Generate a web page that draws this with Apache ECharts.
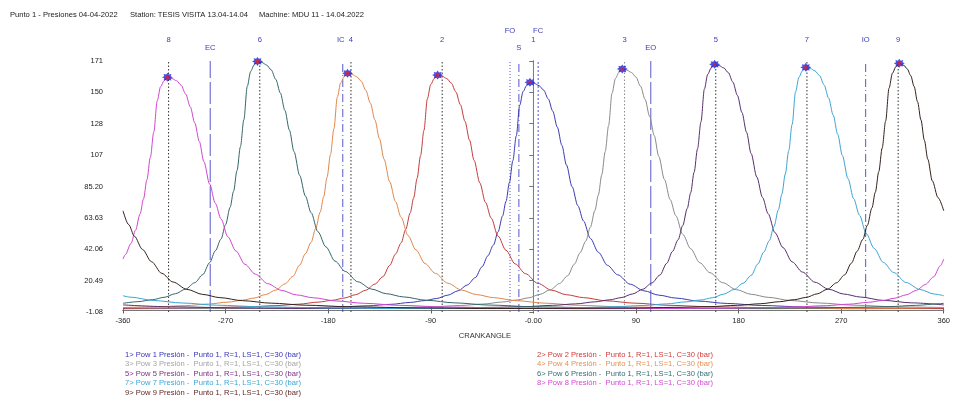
<!DOCTYPE html>
<html>
<head>
<meta charset="utf-8">
<title>Punto 1 - Presiones</title>
<script src="https://cdn.jsdelivr.net/npm/echarts@6/dist/echarts.min.js"></script>
<style>
  html, body { margin: 0; padding: 0; background: #ffffff; }
  #chart { width: 953px; height: 400px; }
</style>
</head>
<body>
<div id="chart"></div>
<script>
// ---- Cylinder pressure traces: [crank angle (deg), pressure (bar)] ----
const pow1 = [[-360,1.2],[-300,1.3],[-240,1.5],[-200,1.9],[-170,2.4],[-145,3.2],[-125,4.2],[-108,5.5],[-95,6.8],[-85,8.2],[-75,10.5],[-66,13.5],[-58,17.5],[-51,22.5],[-45,30],[-40,37.5],[-35,45],[-31,54],[-27,65],[-24,75],[-21,88],[-18,103],[-15,120],[-12,141],[-9,150.5],[-6,154.5],[-3,156.8],[1,156],[5,154.5],[9,151.5],[13,145.5],[17,137],[21,126],[25,113.5],[29,100],[34,85],[39,72],[44,61.5],[50,49.5],[57,40],[65,31],[74,24.5],[85,18],[97,13.5],[110,10.5],[125,8.5],[145,6.4],[170,4.8],[200,3.4],[240,2.3],[300,1.6],[360,1.2]];
const pow2 = [[-360,1.4],[-321,1.5],[-281,2.0],[-251,2.5],[-226,3.3],[-206,4.3],[-189,5.7],[-176,7.0],[-166,8.5],[-156,10.8],[-147,13.9],[-139,18.1],[-132,23.2],[-126,31.0],[-121,38.7],[-116,46.4],[-112,55.7],[-108,67.1],[-105,77.4],[-102,90.8],[-99,106.3],[-96,123.8],[-93,145.5],[-90,155.3],[-87,159.4],[-84,161.8],[-80,161.0],[-76,159.4],[-72,156.3],[-68,150.2],[-64,141.4],[-60,130.0],[-56,117.1],[-52,103.2],[-47,87.7],[-42,74.3],[-37,63.5],[-31,51.1],[-24,41.3],[-16,32.0],[-7,25.3],[4,18.6],[16,13.9],[29,10.8],[44,8.8],[64,6.6],[89,5.0],[119,3.5],[159,2.4],[219,1.7],[279,1.2],[339,1.3],[360,1.4]];
const pow3 = [[-360,2.0],[-339,1.7],[-279,1.3],[-219,1.4],[-159,1.6],[-119,2.0],[-89,2.5],[-64,3.4],[-44,4.4],[-27,5.8],[-14,7.2],[-4,8.7],[6,11.1],[15,14.3],[23,18.5],[30,23.8],[36,31.8],[41,39.7],[46,47.7],[50,57.2],[54,68.8],[57,79.4],[60,93.2],[63,109.1],[66,127.1],[69,149.3],[72,159.4],[75,163.6],[78,166.0],[82,165.2],[86,163.6],[90,160.4],[94,154.1],[98,145.1],[102,133.4],[106,120.2],[110,105.9],[115,90.0],[120,76.2],[125,65.1],[131,52.4],[138,42.4],[146,32.8],[155,25.9],[166,19.1],[178,14.3],[191,11.1],[206,9.0],[226,6.8],[251,5.1],[281,3.6],[321,2.4],[360,2.0]];
const pow4 = [[-360,2.0],[-330,2.5],[-305,3.3],[-285,4.4],[-268,5.7],[-255,7.1],[-245,8.5],[-235,10.9],[-226,14.0],[-218,18.2],[-211,23.4],[-205,31.2],[-200,39.0],[-195,46.8],[-191,56.2],[-187,67.6],[-184,78.0],[-181,91.5],[-178,107.1],[-175,124.8],[-172,146.6],[-169,156.5],[-166,160.7],[-163,163.0],[-159,162.2],[-155,160.7],[-151,157.6],[-147,151.3],[-143,142.5],[-139,131.0],[-135,118.0],[-131,104.0],[-126,88.4],[-121,74.9],[-116,64.0],[-110,51.5],[-103,41.6],[-95,32.2],[-86,25.5],[-75,18.7],[-63,14.0],[-50,10.9],[-35,8.8],[-15,6.7],[10,5.0],[40,3.5],[80,2.4],[140,1.7],[200,1.2],[260,1.4],[320,1.6],[360,2.0]];
const pow5 = [[-360,3.8],[-318,2.5],[-258,1.7],[-198,1.3],[-138,1.4],[-78,1.6],[-38,2.1],[-8,2.6],[17,3.5],[37,4.5],[54,5.9],[67,7.3],[77,8.8],[87,11.3],[96,14.6],[104,18.9],[111,24.3],[117,32.4],[122,40.5],[127,48.6],[131,58.3],[135,70.1],[138,80.9],[141,95.0],[144,111.1],[147,129.5],[150,152.1],[153,162.4],[156,166.7],[159,169.2],[163,168.3],[167,166.7],[171,163.5],[175,157.0],[179,147.8],[183,136.0],[187,122.5],[191,107.9],[196,91.7],[201,77.7],[206,66.4],[212,53.4],[219,43.2],[227,33.4],[236,26.4],[247,19.4],[259,14.6],[272,11.3],[287,9.2],[307,6.9],[332,5.2],[360,3.8]];
const pow6 = [[-360,4.9],[-347,6.0],[-334,7.4],[-324,9.0],[-314,11.5],[-305,14.7],[-297,19.1],[-290,24.6],[-284,32.8],[-279,41.0],[-274,49.1],[-270,59.0],[-266,71.0],[-263,81.9],[-260,96.1],[-257,112.5],[-254,131.0],[-251,154.0],[-248,164.3],[-245,168.7],[-242,171.2],[-238,170.4],[-234,168.7],[-230,165.4],[-226,158.9],[-222,149.6],[-218,137.6],[-214,123.9],[-210,109.2],[-205,92.8],[-200,78.6],[-195,67.2],[-189,54.1],[-182,43.7],[-174,33.9],[-165,26.8],[-154,19.7],[-142,14.7],[-129,11.5],[-114,9.3],[-94,7.0],[-69,5.2],[-39,3.7],[1,2.5],[61,1.7],[121,1.3],[181,1.4],[241,1.6],[281,2.1],[311,2.6],[336,3.5],[356,4.6],[360,4.9]];
const pow7 = [[-360,10.1],[-353,9.1],[-333,6.8],[-308,5.1],[-278,3.6],[-238,2.5],[-178,1.7],[-118,1.3],[-58,1.4],[2,1.6],[42,2.0],[72,2.6],[97,3.4],[117,4.5],[134,5.9],[147,7.2],[157,8.7],[167,11.2],[176,14.4],[184,18.7],[191,24.0],[197,32.0],[202,40.0],[207,48.0],[211,57.6],[215,69.3],[218,80.0],[221,93.8],[224,109.8],[227,127.9],[230,150.3],[233,160.4],[236,164.7],[239,167.1],[243,166.3],[247,164.7],[251,161.5],[255,155.1],[259,146.0],[263,134.3],[267,121.0],[271,106.6],[276,90.6],[281,76.8],[286,65.6],[292,52.8],[299,42.6],[307,33.0],[316,26.1],[327,19.2],[339,14.4],[352,11.2],[360,10.1]];
const pow8 = [[-360,35.3],[-358,38.3],[-353,46.0],[-349,55.2],[-345,66.4],[-342,76.7],[-339,89.9],[-336,105.3],[-333,122.6],[-330,144.1],[-327,153.8],[-324,157.9],[-321,160.3],[-317,159.4],[-313,157.9],[-309,154.8],[-305,148.7],[-301,140.0],[-297,128.8],[-293,116.0],[-289,102.2],[-284,86.9],[-279,73.6],[-274,62.9],[-268,50.6],[-261,40.9],[-253,31.7],[-244,25.0],[-233,18.4],[-221,13.8],[-208,10.7],[-193,8.7],[-173,6.5],[-148,4.9],[-118,3.5],[-78,2.4],[-18,1.6],[42,1.2],[102,1.3],[162,1.5],[202,1.9],[232,2.5],[257,3.3],[277,4.3],[294,5.6],[307,6.9],[317,8.4],[327,10.7],[336,13.8],[344,17.9],[351,23.0],[357,30.7],[360,35.3]];
const pow9 = [[-360,68.5],[-355,59],[-350,51],[-343,42],[-335,33.5],[-326,25.5],[-316,19.5],[-304,14.5],[-290,11],[-275,8.8],[-255,6.7],[-230,5.0],[-200,3.6],[-160,2.5],[-100,1.7],[-40,1.3],[24,1.4],[84,1.6],[124,2.1],[154,2.6],[179,3.5],[199,4.6],[216,6.0],[229,7.4],[239,8.9],[249,11.4],[258,14.6],[266,19.0],[273,24.4],[279,32.5],[284,40.7],[289,48.8],[293,58.5],[297,70.5],[300,81.3],[303,95.4],[306,111.7],[309,130.1],[312,152.8],[315,163.1],[318,167.5],[321,169.9],[325,168.5],[328,166],[331,161.5],[334,154],[337,143.5],[340,131],[343,117],[346,104],[350,89],[355,77.5],[360,68.5]];

// ---- Firing TDC of each cylinder and valve / injection events ----
const tdcCylinders = ['8', '6', '4', '2', '1', '3', '5', '7', '9'];
const tdcAngles = [-320, -240, -160, -80, 0, 80, 160, 240, 320];
const eventNames = ['EC', 'IC', 'FO', 'S', 'FC', 'EO', 'IO'];
const eventAngles = [-283.5, -167.2, -20.5, -12.7, 4.2, 103, 291.5];

// ---- Axis ticks ----
const xTickValues = [-360, -270, -180, -90, 0, 90, 180, 270, 360];
const xTickLabels = ['-360', '-270', '-180', '-90', '-0.00', '90', '180', '270', '360'];
const yTickValues = [-1.08, 20.49, 42.06, 63.63, 85.20, 106.77, 128.34, 149.91, 171.48];
const yTickLabels = ['-1.08', '20.49', '42.06', '63.63', '85.20', '107', '128', '150', '171'];

// ---- Series names ----
const traceNames = [1, 2, 3, 4, 5, 6, 7, 8, 9].map(n => n + '> Pow ' + n + ' Presión -  Punto 1, R=1, LS=1, C=30 (bar)');
const traces = [pow1, pow2, pow3, pow4, pow5, pow6, pow7, pow8, pow9];

// ---- Styling ----
const FONT = '"Liberation Sans", Arial, sans-serif';
const lineColors = ['#3b3bb2', '#c43c3c', '#8a8a8a', '#e0874a', '#55306e', '#35666a', '#3ea4d4', '#d046d0', '#33221c'];
const legendColors = ['#3535b8', '#d03a3a', '#a4a4a4', '#e69050', '#7e2d80', '#2f6e76', '#3aa6d8', '#d447d4', '#5e2622'];
const eventDash = {
  EC: [22, 4], EO: [22, 4],
  IC: [8, 3, 1, 3], IO: [8, 3, 1, 3], S: [8, 3, 1, 3],
  FO: [1, 2], FC: [2, 2]
};
const eventLabelY = { EC: 48, IC: 40, FO: 31, S: 48, FC: 31, EO: 48, IO: 40 };
const eventLabelDx = { IC: -2 };
const Y_MIN = yTickValues[0];
const Y_MAX = yTickValues[yTickValues.length - 1];

// eight-armed asterisk used for the peak markers
function asteriskPath(R, r) {
  const pts = [];
  for (let i = 0; i < 16; i++) {
    const a = i * Math.PI / 8;
    const rad = i % 2 === 0 ? R : r;
    pts.push((Math.cos(a) * rad).toFixed(3) + ' ' + (Math.sin(a) * rad).toFixed(3));
  }
  return 'path://M' + pts.join(' L') + ' Z';
}

function nearestLabel(values, labels, v) {
  let best = 0;
  for (let i = 1; i < values.length; i++) {
    if (Math.abs(values[i] - v) < Math.abs(values[best] - v)) best = i;
  }
  return labels[best];
}

const series = [];

// vertical event lines
eventNames.forEach((name, i) => {
  series.push({
    type: 'line', silent: true, symbol: 'none', z: 1, xAxisIndex: 0, yAxisIndex: 0,
    data: [[eventAngles[i], Y_MIN], [eventAngles[i], Y_MAX]],
    lineStyle: { color: 'rgba(58,58,196,0.85)', width: 1, type: eventDash[name] }
  });
});
// dotted TDC lines
tdcAngles.forEach((a, i) => {
  const grey = tdcCylinders[i] === '1' || tdcCylinders[i] === '3';
  series.push({
    type: 'line', silent: true, symbol: 'none', z: 1, xAxisIndex: 0, yAxisIndex: 0,
    data: [[a, Y_MIN], [a, Y_MAX]],
    lineStyle: { color: grey ? '#8a8a8a' : '#333333', width: 1, type: [1.5, 2] }
  });
});
// pressure traces
traces.forEach((d, i) => {
  series.push({
    name: traceNames[i], type: 'line', data: d, symbol: 'none', z: 3,
    smooth: 0.3, smoothMonotone: 'x',
    lineStyle: { color: lineColors[i], width: 1 },
    itemStyle: { color: lineColors[i] }
  });
});
// peak markers (maximum of each trace)
const peaks = traces.map(d => d.reduce((m, p) => (p[1] > m[1] ? p : m), d[0]));
series.push({
  type: 'scatter', data: peaks, z: 6, silent: true, clip: false,
  symbol: asteriskPath(5, 3.2), symbolSize: [11, 9],
  itemStyle: { color: '#1f22d6' }
});
series.push({
  type: 'scatter', data: peaks, z: 7, silent: true, clip: false,
  symbol: 'rect', symbolSize: 3,
  itemStyle: { color: '#e3222b' }
});

const leftNames = [0, 2, 4, 6, 8];
const rightNames = [1, 3, 5, 7];
function legendBlock(idxs, left) {
  return {
    orient: 'vertical', left: left, top: 350, icon: 'none',
    itemWidth: 0, itemHeight: 9.5, itemGap: 0, padding: 0,
    selectedMode: false,
    textStyle: { fontSize: 7.6, fontFamily: FONT, lineHeight: 9.5 },
    data: idxs.map(i => ({ name: traceNames[i], textStyle: { color: legendColors[i] } }))
  };
}

const axisLineStyle = { lineStyle: { color: '#5a5a5a', width: 1 } };

const option = {
  animation: false,
  backgroundColor: '#ffffff',
  grid: { left: 123, right: 6, top: 61, bottom: 88, containLabel: false },
  legend: [legendBlock(leftNames, 120), legendBlock(rightNames, 532)],
  xAxis: [{
    type: 'value', min: -360, max: 360, interval: 90, position: 'bottom',
    axisLine: axisLineStyle,
    axisTick: { show: true, inside: false, length: 3, lineStyle: { color: '#5a5a5a' } },
    axisLabel: {
      fontSize: 7.5, fontFamily: FONT, color: '#222', margin: 5,
      formatter: v => nearestLabel(xTickValues, xTickLabels, v)
    },
    splitLine: { show: false }
  }, {
    type: 'value', min: -360, max: 360, interval: 90, position: 'top',
    axisLine: { lineStyle: { color: '#777', width: 1 } },
    axisTick: { show: true, inside: false, length: 3, lineStyle: { color: '#777' } },
    axisLabel: { show: false },
    splitLine: { show: false }
  }],
  yAxis: [{
    type: 'value', min: Y_MIN, max: Y_MAX, position: 'left',
    axisLine: { show: true, lineStyle: { color: '#5a5a5a', width: 1 } },
    axisTick: { show: true, inside: false, length: 4, customValues: yTickValues, lineStyle: { color: '#5a5a5a' } },
    axisLabel: {
      fontSize: 7.5, fontFamily: FONT, color: '#222', margin: 20, customValues: yTickValues,
      formatter: v => nearestLabel(yTickValues, yTickLabels, v)
    },
    splitLine: { show: false }
  }, {
    type: 'value', min: Y_MIN, max: Y_MAX, position: 'right',
    axisLine: { show: true, lineStyle: { color: '#777', width: 1 } },
    axisTick: { show: true, inside: true, length: 3, customValues: yTickValues, lineStyle: { color: '#777' } },
    axisLabel: { show: false },
    splitLine: { show: false }
  }],
  series: series
};

const chart = echarts.init(document.getElementById('chart'), null, { renderer: 'canvas' });
chart.setOption(option);

// header, axis title and the labels above the plot
const xPx = a => chart.convertToPixel({ xAxisIndex: 0 }, a);
const textEl = (text, x, y, color, align) => ({
  type: 'text', x: x, y: y, silent: true,
  style: { text: text, fill: color, fontSize: 7.6, fontFamily: FONT, align: align || 'center', verticalAlign: 'middle' }
});
const graphics = [
  textEl('Punto 1 - Presiones 04-04-2022', 10, 15, '#1a1a1a', 'left'),
  textEl('Station: TESIS VISITA 13.04-14.04', 130, 15, '#1a1a1a', 'left'),
  textEl('Machine: MDU 11 - 14.04.2022', 259, 15, '#1a1a1a', 'left'),
  textEl('CRANKANGLE', 485, 336, '#333333')
];
tdcAngles.forEach((a, i) => graphics.push(textEl(tdcCylinders[i], xPx(a), 40, '#3a3ab8')));
eventNames.forEach((n, i) => graphics.push(textEl(n, xPx(eventAngles[i]) + (eventLabelDx[n] || 0), eventLabelY[n], '#3a3ab8')));
chart.setOption({ graphic: graphics });
</script>
</body>
</html>
